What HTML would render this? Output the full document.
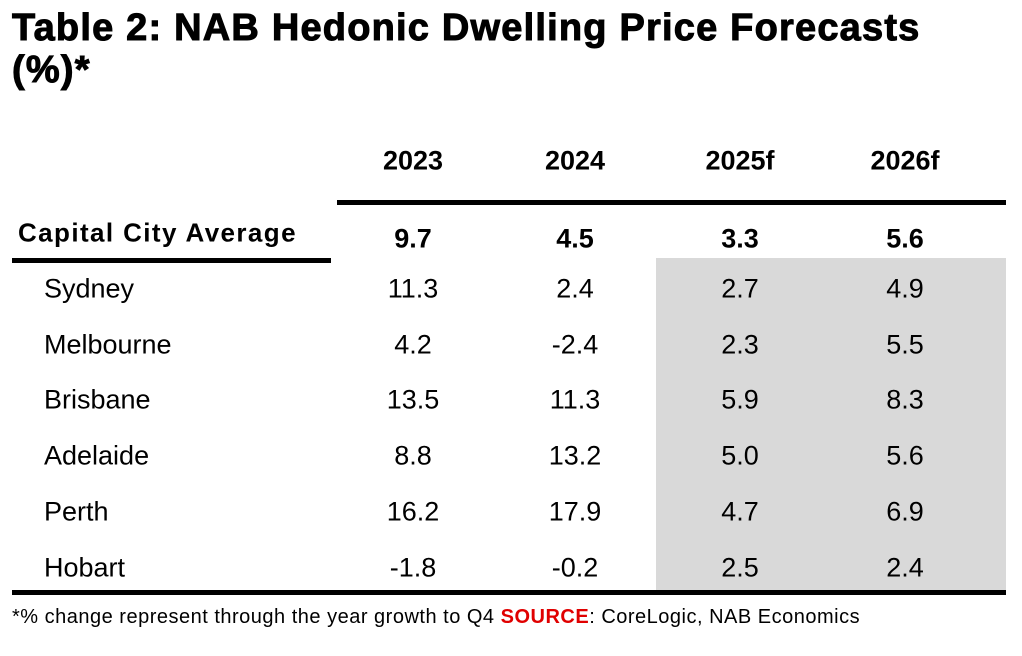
<!DOCTYPE html>
<html><head><style>
body{margin:0;width:1022px;height:656px;background:#fff;position:relative;overflow:hidden;font-family:"Liberation Sans",sans-serif;color:#000}
.a{position:absolute;white-space:nowrap}
.t{font-weight:bold;font-size:38px;left:12px;letter-spacing:1.2px;-webkit-text-stroke:1px #000}
.c{transform:translate(-50%,-50%);font-size:27px}
.l{transform:translateY(-50%);font-size:27px;left:44px}
.b{font-weight:bold}
</style></head><body>
<div class="a t" style="top:7px">Table 2: NAB Hedonic Dwelling Price Forecasts</div>
<div class="a t" style="top:49px">(%)*</div>
<div class="a" style="left:656px;top:258px;width:350px;height:334px;background:#d9d9d9"></div>
<div class="a" style="left:337px;top:200px;width:669px;height:5px;background:#000"></div>
<div class="a" style="left:12px;top:258px;width:319px;height:5px;background:#000"></div>
<div class="a" style="left:12px;top:590px;width:994px;height:5px;background:#000"></div>
<div class="a c b" style="left:413px;top:161px">2023</div>
<div class="a c b" style="left:575px;top:161px">2024</div>
<div class="a c b" style="left:740px;top:161px">2025f</div>
<div class="a c b" style="left:905px;top:161px">2026f</div>
<div class="a l b" style="left:18px;top:233px;font-size:26px;letter-spacing:1.4px">Capital City Average</div>
<div class="a c b" style="left:413px;top:239px">9.7</div>
<div class="a c b" style="left:575px;top:239px">4.5</div>
<div class="a c b" style="left:740px;top:239px">3.3</div>
<div class="a c b" style="left:905px;top:239px">5.6</div>
<div class="a l" style="top:289px">Sydney</div><div class="a c" style="left:413px;top:289px">11.3</div><div class="a c" style="left:575px;top:289px">2.4</div><div class="a c" style="left:740px;top:289px">2.7</div><div class="a c" style="left:905px;top:289px">4.9</div>
<div class="a l" style="top:345px">Melbourne</div><div class="a c" style="left:413px;top:345px">4.2</div><div class="a c" style="left:575px;top:345px">-2.4</div><div class="a c" style="left:740px;top:345px">2.3</div><div class="a c" style="left:905px;top:345px">5.5</div>
<div class="a l" style="top:400px">Brisbane</div><div class="a c" style="left:413px;top:400px">13.5</div><div class="a c" style="left:575px;top:400px">11.3</div><div class="a c" style="left:740px;top:400px">5.9</div><div class="a c" style="left:905px;top:400px">8.3</div>
<div class="a l" style="top:456px">Adelaide</div><div class="a c" style="left:413px;top:456px">8.8</div><div class="a c" style="left:575px;top:456px">13.2</div><div class="a c" style="left:740px;top:456px">5.0</div><div class="a c" style="left:905px;top:456px">5.6</div>
<div class="a l" style="top:512px">Perth</div><div class="a c" style="left:413px;top:512px">16.2</div><div class="a c" style="left:575px;top:512px">17.9</div><div class="a c" style="left:740px;top:512px">4.7</div><div class="a c" style="left:905px;top:512px">6.9</div>
<div class="a l" style="top:568px">Hobart</div><div class="a c" style="left:413px;top:568px">-1.8</div><div class="a c" style="left:575px;top:568px">-0.2</div><div class="a c" style="left:740px;top:568px">2.5</div><div class="a c" style="left:905px;top:568px">2.4</div>
<div class="a" style="left:12px;top:606px;font-size:20px;letter-spacing:0.5px">*% change represent through the year growth to Q4 <span style="color:#e00000;font-weight:bold">SOURCE</span>: CoreLogic, NAB Economics</div>
</body></html>
